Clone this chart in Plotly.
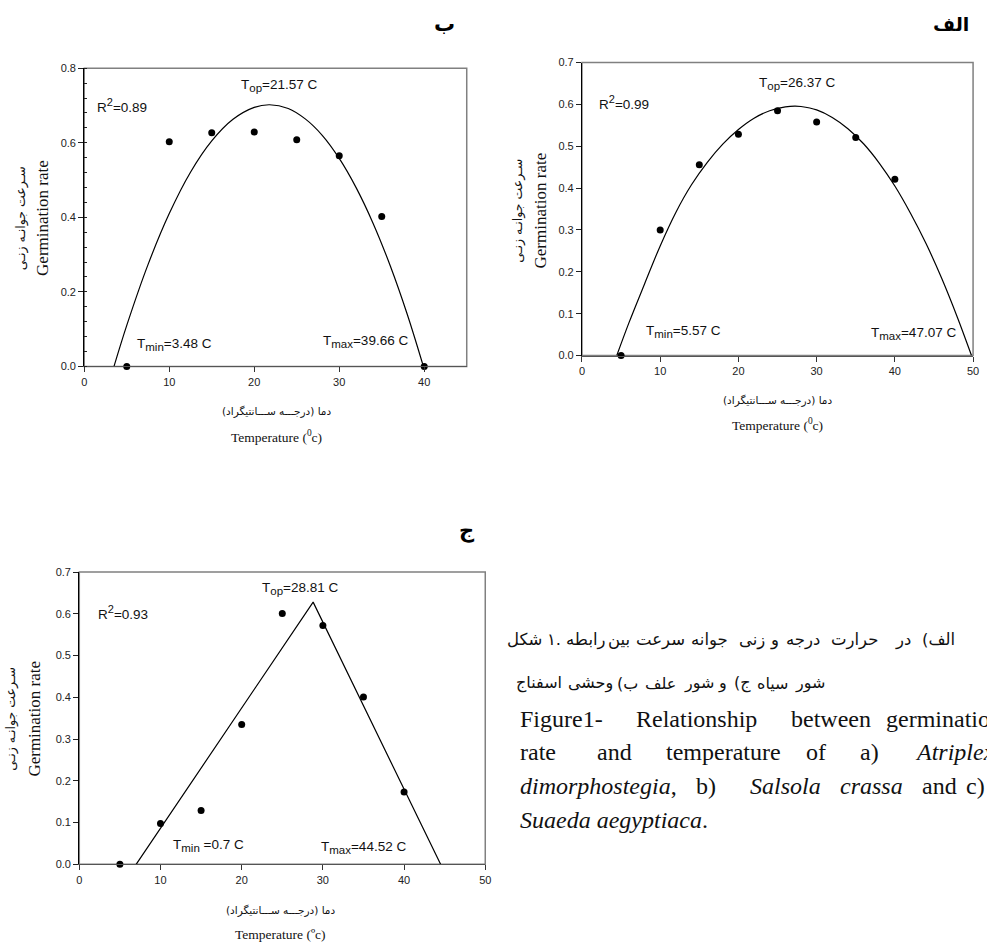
import plotly.graph_objects as go

W, H = 987, 952

# ---------------- data ----------------
temp = [5, 10, 15, 20, 25, 30, 35, 40]

# الف (a) Atriplex dimorphostegia
rate_a = [0.0, 0.300, 0.456, 0.529, 0.585, 0.558, 0.521, 0.421]
curve_a_x = [4.45, 6, 8, 10, 12, 14, 16, 18, 20, 22, 24, 26, 27.2, 28, 30, 32, 34, 36, 38, 40, 42, 44, 46, 48, 49.8]
curve_a_y = [0.0, 0.078, 0.171, 0.262, 0.342, 0.408, 0.461, 0.505, 0.540, 0.567, 0.585, 0.594, 0.596, 0.595, 0.587,
             0.569, 0.542, 0.506, 0.460, 0.405, 0.340, 0.267, 0.184, 0.091, 0.0]

# ب (b) Salsola crassa
rate_b = [0.0, 0.603, 0.627, 0.629, 0.608, 0.565, 0.402, 0.0]
curve_b_x = [3.5, 5, 7.5, 10, 12.5, 15, 17.5, 20, 21.8, 24, 26, 28, 30, 32, 34, 36, 38, 39.9]
curve_b_y = [0.0, 0.110, 0.273, 0.410, 0.521, 0.605, 0.663, 0.695, 0.702, 0.692, 0.664, 0.620, 0.558, 0.479,
             0.383, 0.270, 0.140, 0.0]

# ج (c) Suaeda aegyptiaca
rate_c = [0.0, 0.098, 0.129, 0.335, 0.601, 0.572, 0.401, 0.173]
seg_c_x = [7.0, 28.8, 44.5]
seg_c_y = [0.0, 0.628, 0.0]

xticks_a = [0, 10, 20, 30, 40, 50]
xticks_b = [0, 10, 20, 30, 40]
xticks_c = [0, 10, 20, 30, 40, 50]


def PX(x):
    return x / W


def PY(y):
    return 1 - y / H


fig = go.Figure()

panels = {
    "a": dict(xa="xaxis", ya="yaxis", xd=(584.3, 979.0), yd=(57.3, 354.0), xr=[0, 50], yr=[0, 0.7],
              xt=xticks_a, dy=0.1, minor=False),
    "b": dict(xa="xaxis2", ya="yaxis2", xd=(82.0, 468.0), yd=(63.0, 365.0), xr=[0, 45], yr=[0, 0.8],
              xt=xticks_b, dy=0.2, minor=True),
    "c": dict(xa="xaxis3", ya="yaxis3", xd=(77.0, 486.7), yd=(573.3, 869.3), xr=[0, 50], yr=[0, 0.7],
              xt=xticks_c, dy=0.1, minor=False),
}
refs = {"a": ("x", "y"), "b": ("x2", "y2"), "c": ("x3", "y3")}

tickfont = dict(family="Liberation Sans, Arial, sans-serif", size=11, color="#222")
layout = dict(width=W, height=H, margin=dict(l=0, r=0, t=0, b=0), paper_bgcolor="white",
              plot_bgcolor="white", showlegend=False)

shapes = []
for key, p in panels.items():
    xr, yr = refs[key]
    layout[p["xa"]] = dict(domain=[PX(p["xd"][0]), PX(p["xd"][1])], range=p["xr"], tickvals=p["xt"],
                           showgrid=False, zeroline=False, showline=True, linecolor="#555", linewidth=1.2,
                           ticks="outside", ticklen=5, tickcolor="#333", tickfont=tickfont, anchor=yr)
    ya = dict(domain=[PY(p["yd"][1]), PY(p["yd"][0])], range=p["yr"], dtick=p["dy"], tick0=0,
              tickformat=".1f", showgrid=False, zeroline=False, showline=True, linecolor="black",
              linewidth=1.2, ticks="outside", ticklen=5, tickcolor="#222", tickfont=tickfont, anchor=xr)
    if p["minor"]:
        ya["minor"] = dict(dtick=0.04, ticks="inside", ticklen=3, tickcolor="#222", showgrid=False)
    layout[p["ya"]] = ya
    shapes.append(dict(type="rect", xref=xr + " domain", yref=yr + " domain", x0=0, x1=1, y0=0, y1=1,
                       line=dict(color="#808080", width=1.5), layer="below"))

marker = dict(color="black", size=7)
line = dict(color="black", width=1.2)

fig.add_trace(go.Scatter(x=curve_a_x, y=curve_a_y, mode="lines", line_shape="spline", line=line,
                         xaxis="x", yaxis="y"))
fig.add_trace(go.Scatter(x=temp, y=rate_a, mode="markers", marker=marker, xaxis="x", yaxis="y", cliponaxis=False))

fig.add_trace(go.Scatter(x=curve_b_x, y=curve_b_y, mode="lines", line_shape="spline", line=line,
                         xaxis="x2", yaxis="y2"))
fig.add_trace(go.Scatter(x=temp, y=rate_b, mode="markers", marker=marker, xaxis="x2", yaxis="y2", cliponaxis=False))

fig.add_trace(go.Scatter(x=seg_c_x, y=seg_c_y, mode="lines", line=line, xaxis="x3", yaxis="y3"))
fig.add_trace(go.Scatter(x=temp, y=rate_c, mode="markers", marker=marker, xaxis="x3", yaxis="y3", cliponaxis=False))

ann = []
sans = "Liberation Sans, Arial, sans-serif"
serif = "Liberation Serif, Times New Roman, serif"
fa = "DejaVu Sans, sans-serif"


def txt(x, y, text, size, family=sans, xanchor="left", angle=0, color="#111"):
    ann.append(dict(x=PX(x), y=PY(y), xref="paper", yref="paper", text=text, showarrow=False,
                    xanchor=xanchor, yanchor="middle", textangle=angle,
                    font=dict(family=family, size=size, color=color)))


labsz = 13.5


def sub(s):
    return "<sub><span style='font-size:11.5px'>%s</span></sub>" % s


def sup(s):
    return "<sup><span style='font-size:11px'>%s</span></sup>" % s


# panel a (الف)
txt(801, 78, "T" + sub("op") + "=26.37 C", labsz, xanchor="center")
txt(599, 98, "R" + sup("2") + "=0.99", labsz)
txt(647, 330, "T" + sub("min") + "=5.57 C", labsz)
txt(874, 332, "T" + sub("max") + "=47.07 C", labsz)
# panel b (ب)
txt(279, 81, "T" + sub("op") + "=21.57 C", labsz, xanchor="center")
txt(93, 101, "R" + sup("2") + "=0.89", labsz)
txt(133, 343, "T" + sub("min") + "=3.48 C", labsz)
txt(321, 340, "T" + sub("max") + "=39.66 C", labsz)
# panel c (ج)
txt(300, 590, "T" + sub("op") + "=28.81 C", labsz, xanchor="center")
txt(94, 614, "R" + sup("2") + "=0.93", labsz)
txt(170, 850, "T" + sub("min") + " =0.7 C", labsz)
txt(319, 852, "T" + sub("max") + "=44.52 C", labsz)

# panel letters
txt(957, 18, "<b>الف</b>", 19, family=fa, xanchor="center", color="black")
txt(446, 18, "<b>ب</b>", 21, family=fa, xanchor="center", color="black")
txt(468, 531, "<b>ج</b>", 21, family=fa, xanchor="center", color="black")

# axis titles
fa_y = "سـرعت جوانـه زنـی"
en_y = "Germination rate"
fa_x = "دما (درجـــه ســـانتیگراد)"
for (px_fa, px_en, cy) in [(520, 542, 207), (18, 40, 215), (8, 32, 722)]:
    txt(px_fa, cy, fa_y, 12.5, family=fa, xanchor="center", angle=-90)
    txt(px_en, cy, en_y, 17, family=serif, xanchor="center", angle=-90)
for (cx, yfa, yen, en) in [(782, 400, 424, "Temperature (<sup>0</sup>c)"),
                           (276, 411, 436, "Temperature (<sup>0</sup>c)"),
                           (280, 916, 940, "Temperature (ºc)")]:
    txt(cx, yfa, fa_x, 10.5, family=fa, xanchor="center")
    txt(cx, yen, en, 13.5, family=serif, xanchor="center")

# caption (Persian) — words placed left to right as in the picture (anchor, x, word)
cap_fa = [
    (642, 16.5, [("right", 546, "شکل"), ("left", 547, "۱."), ("left", 566, "رابطه"), ("left", 609, "بین"),
                 ("left", 637, "سرعت"), ("left", 692, "جوانه"), ("left", 741, "زنی"), ("left", 772, "و"),
                 ("left", 788, "درجه"), ("left", 834, "حرارت"), ("left", 898, "در"), ("left", 925, "(الف")]),
    (686, 16, [("center", 541, "اسفناج"), ("center", 593, "وحشی"), ("center", 630, "(ب"), ("center", 664, "علف"),
               ("center", 702, "شور"), ("center", 726, "و"), ("center", 746, "(ج"), ("center", 777, "سیاه"),
               ("center", 814, "شور")]),
]
for yy, fs, words in cap_fa:
    for anc, xx, w in words:
        txt(xx, yy, w, fs, family=fa, xanchor=anc, color="#111")

# caption (English, justified lines)
cap_en = [
    (722, [(520, "Figure1-"), (637, "Relationship"), (793, "between"), (889, "germination")]),
    (756, [(520, "rate"), (597, "and"), (667, "temperature"), (808, "of"), (863, "a)"), (918, "<i>Atriplex</i>")]),
    (790, [(520, "<i>dimorphostegia</i>,"), (697, "b)"), (752, "<i>Salsola</i>"), (843, "<i>crassa</i>"),
           (925, "and"), (970, "c)")]),
    (824, [(520, "<i>Suaeda aegyptiaca</i>.")]),
]
for yy, words in cap_en:
    for xx, w in words:
        txt(xx, yy, w, 24, family=serif, color="#111")

layout["annotations"] = ann
layout["shapes"] = shapes
fig.update_layout(**layout)

fig.write_html("out.html", config={"displayModeBar": False},
               post_script="document.body.style.margin='0';document.body.style.overflow='hidden';")
